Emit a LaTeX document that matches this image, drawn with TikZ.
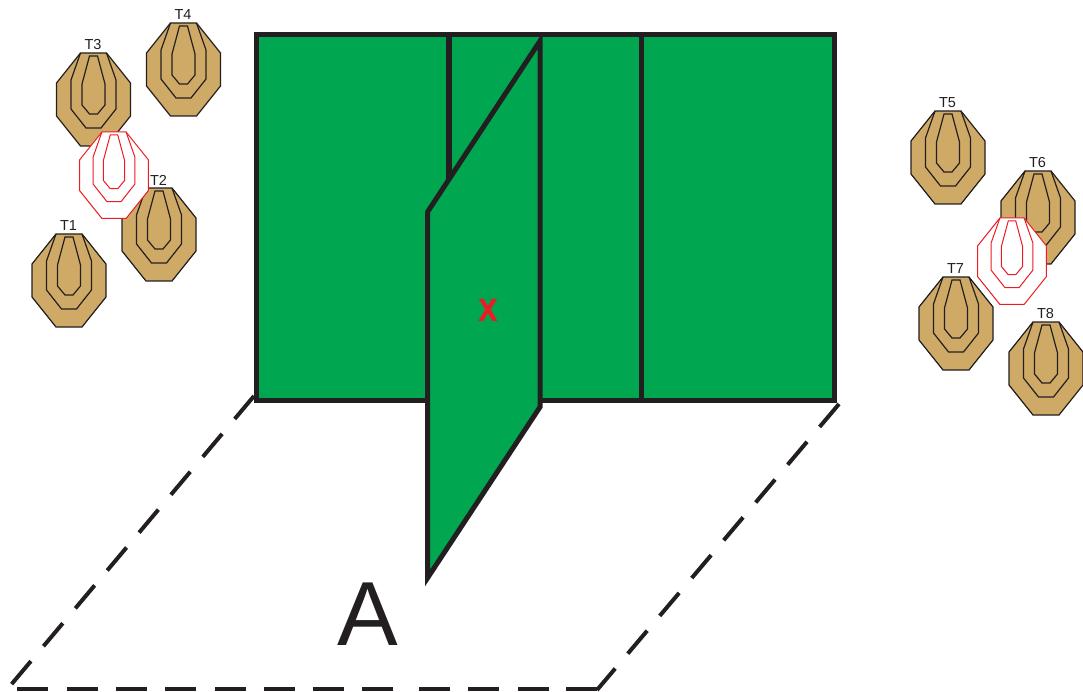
\documentclass[tikz,border=0pt]{standalone}
\usepackage{fontspec}
\setmainfont{Liberation Sans}
\definecolor{fieldgreen}{HTML}{00A650}
\definecolor{ink}{HTML}{231F20}
\definecolor{tan}{HTML}{CFAA66}
\definecolor{redx}{HTML}{ED1C24}
\tikzset{
  wall/.style={draw=ink,line width=5pt,fill=fieldgreen,miter limit=20},
  divider/.style={draw=ink,line width=5.6pt},
  boundary/.style={draw=ink,line width=4pt,dash pattern=on 30pt off 19.5pt},
  lbl/.style={font=\fontsize{14.5}{15}\selectfont,text=ink,inner sep=0pt},
  pics/target/.style n args={3}{code={
    \draw[draw=#1,line width=#2pt,fill=#3,line join=miter]
      (-13,0)--(13,0)--(37,30)--(37,63)--(13,93)--(-13,93)--(-37,63)--(-37,30)--cycle;
    \draw[draw=#1,line width=#2pt]
      (-13,0)--(-22.5,27)--(-22.5,56)--(-7.5,75)--(7.5,75)--(22.5,56)--(22.5,27)--(13,0);
    \draw[draw=#1,line width=#2pt]
      (-4,3)--(4,3)--(11.5,31)--(11.5,52)--(4,61)--(-4,61)--(-11.5,52)--(-11.5,31)--cycle;
  }}
}
\begin{document}
\begin{tikzpicture}[x=1pt,y=-1pt]
\useasboundingbox (0,0) rectangle (1083,692);
% tan targets
\foreach \n/\cx/\ty in {T1/69/234,T2/159/188,T3/93.5/53,T4/183.5/23,T5/948/111,T6/1038/171,T7/956/277,T8/1046/322}{
  \pic at (\cx,\ty) {target={ink}{1.2}{tan}};
  \node[lbl] (\n) at (\cx-0.5,\ty-8) {\n};
}
% red outlined targets
\pic[scale=0.93] at (114,132) {target={redx}{1}{white}};
\pic[scale=0.93] at (1012,218) {target={redx}{1}{white}};
% back wall
\path[wall] (256,34.5) rectangle (834,400.5);
\draw[divider] (449,34.5) -- (449,190);
\draw[divider] (641.5,34.5) -- (641.5,400.5);
% angled wall
\path[wall] (540,41) -- (540,407) -- (427.5,578) -- (427.5,212) -- cycle;
\node[font=\bfseries\fontsize{42}{42}\selectfont,text=redx,inner sep=0pt,xscale=0.85] (x) at (488,310) {x};
\node[font=\fontsize{91}{91}\selectfont,text=ink,inner sep=0pt,anchor=base] (A) at (368,645) {A};
% boundary
\draw[boundary] (254,396) -- (10,686);
\draw[boundary,dash pattern=on 31pt off 18.5pt on 31pt off 18pt on 31pt off 18.5pt on 31pt off 18.5pt on 31pt off 18pt on 31pt off 18pt on 31pt off 18.5pt on 31pt off 26pt on 31pt off 18pt on 31pt off 19pt on 31pt off 17pt on 31pt off 500pt] (17,689) -- (597,689);
\draw[boundary] (839,404) -- (597,690);
\end{tikzpicture}
\end{document}
